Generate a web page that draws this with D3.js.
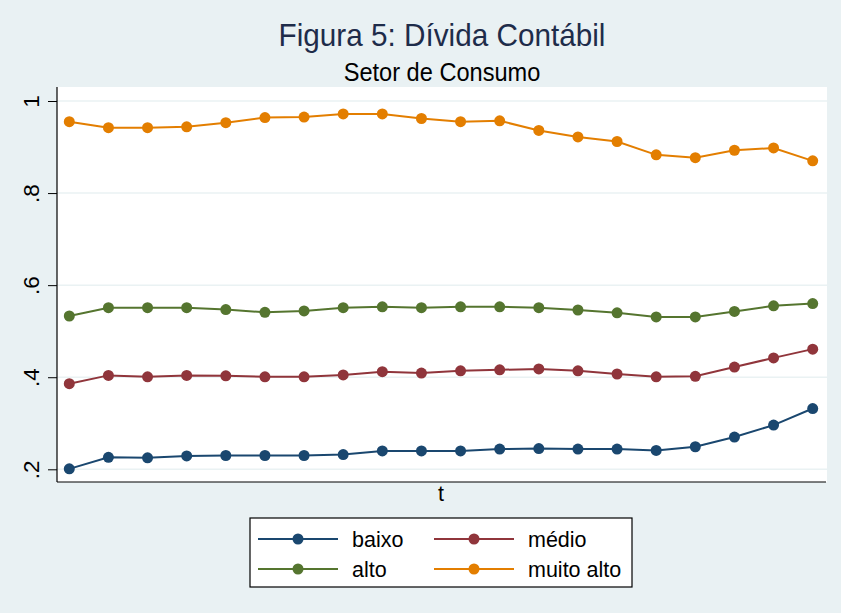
<!DOCTYPE html>
<html>
<head>
<meta charset="utf-8">
<script src="https://cdn.jsdelivr.net/npm/d3@7"></script>
<style>
  body { margin: 0; background: #e9f1f3; }
  text { font-family: "Liberation Sans", Arial, sans-serif; }
</style>
</head>
<body>
<div id="chart"></div>
<script>
// t = 1..20
const periods = d3.range(1, 21);
const baixo = [0.201, 0.226, 0.225, 0.229, 0.230, 0.230, 0.230, 0.232, 0.240, 0.240,
               0.240, 0.244, 0.245, 0.244, 0.244, 0.241, 0.249, 0.270, 0.296, 0.332];
const medio = [0.386, 0.404, 0.401, 0.404, 0.403, 0.401, 0.401, 0.405, 0.412, 0.409,
               0.414, 0.416, 0.418, 0.414, 0.407, 0.401, 0.402, 0.422, 0.442, 0.461];
const alto = [0.533, 0.551, 0.551, 0.551, 0.547, 0.541, 0.544, 0.551, 0.553, 0.551,
              0.553, 0.553, 0.551, 0.546, 0.540, 0.531, 0.531, 0.543, 0.555, 0.560];
const muitoAlto = [0.955, 0.942, 0.942, 0.944, 0.953, 0.964, 0.965, 0.972, 0.972, 0.962,
                   0.955, 0.957, 0.936, 0.922, 0.912, 0.883, 0.877, 0.893, 0.898, 0.870];
const yTicks = [0.2, 0.4, 0.6, 0.8, 1];
const yTickLabels = [".2", ".4", ".6", ".8", "1"];
const seriesNames = ["baixo", "médio", "alto", "muito alto"];

const series = [
    { name: seriesNames[0], values: baixo, color: "#1a476f" },
    { name: seriesNames[1], values: medio, color: "#90353b" },
    { name: seriesNames[2], values: alto, color: "#55752f" },
    { name: seriesNames[3], values: muitoAlto, color: "#e37e00" }
];

const width = 841, height = 613;
const plot = { left: 57, right: 827, top: 87, bottom: 482 };
const cx = (plot.left + plot.right) / 2; // titles are centred on the plot

let svg = d3.select("#chart").append("svg")
    .attr("width", width)
    .attr("height", height);

svg.append("rect") // outer graph region
    .attr("width", width).attr("height", height)
    .attr("fill", "#e9f1f3");

svg.append("rect") // white plot region
    .attr("x", plot.left).attr("y", plot.top)
    .attr("width", plot.right - plot.left).attr("height", plot.bottom - plot.top)
    .attr("fill", "#ffffff");

let x = d3.scaleLinear()
    .domain([1, 20])
    .range([69.3, 812.7]);

let y = d3.scaleLinear()
    .domain([0.2, 1])
    .range([469.3, 101]);

// grid lines
svg.append("g")
    .selectAll("line")
    .data(yTicks)
    .join("line")
    .attr("x1", plot.left).attr("x2", plot.right)
    .attr("y1", d => y(d)).attr("y2", d => y(d))
    .attr("stroke", "#eaf2f3")
    .attr("stroke-width", 1.5);

// y axis
let yAxis = svg.append("g")
    .attr("transform", `translate(${plot.left},0)`)
    .call(d3.axisLeft(y).tickValues(yTicks).tickSize(9).tickSizeOuter(0)
        .tickFormat((d, i) => yTickLabels[i]));
yAxis.select(".domain").remove();
yAxis.selectAll(".tick line").attr("stroke", "#000");
yAxis.selectAll(".tick text")
    .attr("transform", "rotate(-90)")
    .attr("x", 0).attr("y", -18).attr("dy", 0)
    .attr("text-anchor", "middle")
    .style("font-size", "22.5px")
    .attr("fill", "#000");

// axis lines
svg.append("line")
    .attr("x1", plot.left).attr("x2", plot.left)
    .attr("y1", plot.top).attr("y2", plot.bottom)
    .attr("stroke", "#000").attr("stroke-width", 1.2);
svg.append("line")
    .attr("x1", plot.left).attr("x2", plot.right - 1)
    .attr("y1", plot.bottom).attr("y2", plot.bottom)
    .attr("stroke", "#000").attr("stroke-width", 1.2);

let line = d3.line()
    .x((d, i) => x(periods[i]))
    .y(d => y(d));

for (let s of series) {
    svg.append("path")
        .datum(s.values)
        .attr("fill", "none")
        .attr("stroke", s.color)
        .attr("stroke-width", 2)
        .attr("d", line);
    svg.append("g")
        .selectAll("circle")
        .data(s.values)
        .join("circle")
        .attr("cx", (d, i) => x(periods[i]))
        .attr("cy", d => y(d))
        .attr("r", 5.5)
        .attr("fill", s.color);
}

// titles (the original text is a bit stretched vertically)
svg.append("text")
    .attr("transform", `translate(${cx},46) scale(1,1.07)`)
    .attr("text-anchor", "middle")
    .style("font-size", "29.7px")
    .attr("fill", "#1e2c4a")
    .text("Figura 5: Dívida Contábil");

svg.append("text")
    .attr("transform", `translate(${cx},81) scale(1,1.1)`)
    .attr("text-anchor", "middle")
    .style("font-size", "23.6px")
    .attr("fill", "#000")
    .text("Setor de Consumo");

svg.append("text") // x axis title
    .attr("x", 441).attr("y", 501)
    .attr("text-anchor", "middle")
    .style("font-size", "21.5px")
    .attr("fill", "#000")
    .text("t");

// legend
let legend = svg.append("g");
legend.append("rect")
    .attr("x", 250).attr("y", 518)
    .attr("width", 382).attr("height", 69)
    .attr("fill", "#fff")
    .attr("stroke", "#000")
    .attr("stroke-width", 1.2);

const legendPos = [
    { x: 258, y: 539 }, { x: 434, y: 539 },
    { x: 258, y: 569 }, { x: 434, y: 569 }
];

series.forEach((s, i) => {
    let p = legendPos[i];
    legend.append("line")
        .attr("x1", p.x).attr("x2", p.x + 80)
        .attr("y1", p.y).attr("y2", p.y)
        .attr("stroke", s.color).attr("stroke-width", 2);
    legend.append("circle")
        .attr("cx", p.x + 40).attr("cy", p.y)
        .attr("r", 5.5)
        .attr("fill", s.color);
    legend.append("text")
        .attr("x", p.x + 94).attr("y", p.y + 8)
        .style("font-size", "21.5px")
        .attr("fill", "#000")
        .text(s.name);
});
</script>
</body>
</html>
